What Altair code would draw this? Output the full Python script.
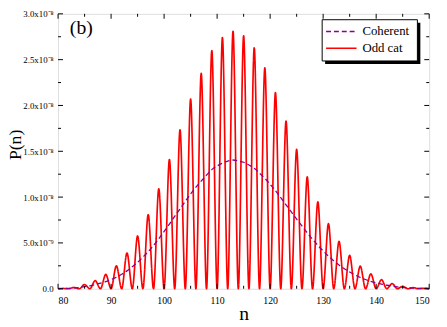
import altair as alt
import pandas as pd

# ---- data (values in units of 1e-8) ----
n_values = list(range(80, 151))
coherent_e8 = [
    0.001, 0.0015, 0.004, 0.007, 0.014, 0.023, 0.032, 0.044, 0.060, 0.078,
    0.100, 0.125, 0.158, 0.195, 0.240, 0.288, 0.345, 0.405, 0.473, 0.545,
    0.625, 0.705, 0.790, 0.870, 0.955, 1.035, 1.108, 1.175, 1.240, 1.300,
    1.340, 1.370, 1.392, 1.405, 1.395, 1.380, 1.350, 1.315, 1.262, 1.205,
    1.140, 1.070, 0.993, 0.915, 0.838, 0.760, 0.685, 0.610, 0.540, 0.474,
    0.412, 0.355, 0.305, 0.258, 0.218, 0.182, 0.151, 0.124, 0.101, 0.081,
    0.064, 0.050, 0.038, 0.028, 0.020, 0.014, 0.010, 0.007, 0.004, 0.003,
    0.002,
]
oddcat_e8 = [
    0.0, 0.003, 0.0, 0.014, 0.0, 0.046, 0.0, 0.088, 0.0, 0.156,
    0.0, 0.25, 0.0, 0.39, 0.0, 0.576, 0.0, 0.81, 0.0, 1.09,
    0.0, 1.41, 0.0, 1.735, 0.0, 2.07, 0.0, 2.35, 0.0, 2.60,
    0.0, 2.74, 0.0, 2.81, 0.0, 2.76, 0.0, 2.63, 0.0, 2.41,
    0.0, 2.14, 0.0, 1.83, 0.0, 1.52, 0.0, 1.22, 0.0, 0.947,
    0.0, 0.71, 0.0, 0.516, 0.0, 0.364, 0.0, 0.247, 0.0, 0.162,
    0.0, 0.099, 0.0, 0.056, 0.0, 0.026, 0.0, 0.012, 0.0, 0.005,
    0.0,
]
series_names = ["Coherent", "Odd cat"]
series_colors = ["#8b008b", "#ff0000"]
series_dashes = [[5, 3], [1, 0]]

x_major = [80, 90, 100, 110, 120, 130, 140, 150]
x_minor = [85, 95, 105, 115, 125, 135, 145]
y_major = [0, 5e-9, 1e-8, 1.5e-8, 2e-8, 2.5e-8, 3e-8]
y_minor = [2.5e-9, 7.5e-9, 1.25e-8, 1.75e-8, 2.25e-8, 2.75e-8]
y_labels = ["0.0", "5.0x10⁻⁹", "1.0x10⁻⁸", "1.5x10⁻⁸", "2.0x10⁻⁸", "2.5x10⁻⁸", "3.0x10⁻⁸"]

SCALE = 1e-8
W, H = 378, 280
FONT = "Liberation Serif"

coh = pd.DataFrame({"n": n_values, "P": [v * SCALE for v in coherent_e8], "series": "Coherent"})
odd = pd.DataFrame({"n": n_values, "P": [v * SCALE for v in oddcat_e8], "series": "Odd cat"})

xscale = alt.Scale(domain=[80, 150], nice=False, zero=False)
yscale = alt.Scale(domain=[0, 3e-8], nice=False)

label_expr = "[" + ",".join("'" + s + "'" for s in y_labels) + "][round(datum.value/5e-9)]"

color_enc = alt.Color("series:N", scale=alt.Scale(domain=series_names, range=series_colors), legend=None)
dash_enc = alt.StrokeDash("series:N", scale=alt.Scale(domain=series_names, range=series_dashes), legend=None)

x_enc = alt.X("n:Q", scale=xscale,
              axis=alt.Axis(values=x_major, ticks=False, domain=False, grid=False, title="n",
                            labelFont=FONT, labelFontSize=10, labelColor="black", labelPadding=7,
                            titleFont=FONT, titleFontSize=20, titleFontWeight="normal",
                            titleColor="black", titleY=31, titleBaseline="alphabetic"))
y_enc = alt.Y("P:Q", scale=yscale,
              axis=alt.Axis(values=y_major, ticks=False, domain=False, grid=False, title="P(n)",
                            labelExpr=label_expr, labelFont=FONT, labelFontSize=9,
                            labelColor="black", labelPadding=5,
                            titleFont=FONT, titleFontSize=18, titleFontWeight="normal",
                            titleColor="black", titleX=-38.5, titleY=133,
                            titleBaseline="alphabetic", titleAngle=270))

odd_line = alt.Chart(odd).mark_line(strokeWidth=1.7, interpolate="monotone").encode(
    x=x_enc, y=y_enc, color=color_enc, strokeDash=dash_enc)
coh_line = alt.Chart(coh).mark_line(strokeWidth=1.3, interpolate="monotone").encode(
    x="n:Q", y="P:Q", color=color_enc, strokeDash=dash_enc)

# ---- legend drawn by hand (box with drop shadow) ----
one = pd.DataFrame({"a": [0]})
shadow = alt.Chart(one).mark_rect(color="black").encode(
    x=alt.value(272), x2=alt.value(369), y=alt.value(9), y2=alt.value(51))
box = alt.Chart(one).mark_rect(fill="white", stroke="black", strokeWidth=1).encode(
    x=alt.value(269), x2=alt.value(366), y=alt.value(6), y2=alt.value(48))
leg_rows = []
for i, (name, col, dash) in enumerate(zip(series_names, series_colors, series_dashes)):
    yy = 18 + 17 * i
    leg_rows.append(alt.Chart(one).mark_rule(color=col, strokeWidth=1.5, strokeDash=dash).encode(
        x=alt.value(273), x2=alt.value(304), y=alt.value(yy)))
    leg_rows.append(alt.Chart(pd.DataFrame({"t": [name]})).mark_text(
        font=FONT, fontSize=13, color="black", align="left", baseline="middle").encode(
        x=alt.value(310), y=alt.value(yy), text="t:N"))

# tick marks (inward, on all four sides)
xM = pd.DataFrame({"v": x_major})
xm = pd.DataFrame({"v": x_minor})
yM = pd.DataFrame({"v": y_major})
ym = pd.DataFrame({"v": y_minor})

def xticks(df, length):
    b = alt.Chart(df).mark_rule(color="black", strokeWidth=1).encode(
        x=alt.X("v:Q", scale=xscale), y=alt.value(H), y2=alt.value(H - length))
    t = alt.Chart(df).mark_rule(color="black", strokeWidth=1).encode(
        x=alt.X("v:Q", scale=xscale), y=alt.value(0), y2=alt.value(length))
    return [b, t]

def yticks(df, length):
    l = alt.Chart(df).mark_rule(color="black", strokeWidth=1).encode(
        y=alt.Y("v:Q", scale=yscale), x=alt.value(0), x2=alt.value(length))
    r = alt.Chart(df).mark_rule(color="black", strokeWidth=1).encode(
        y=alt.Y("v:Q", scale=yscale), x=alt.value(W), x2=alt.value(W - length))
    return [l, r]

ticks = xticks(xM, 5) + xticks(xm, 3) + yticks(yM, 5) + yticks(ym, 3)

label_b = alt.Chart(pd.DataFrame({"t": ["(b)"]})).mark_text(
    font=FONT, fontSize=20, color="black", align="left", baseline="middle").encode(
    x=alt.value(12), y=alt.value(15), text="t:N")

chart = alt.layer(odd_line, coh_line, *ticks, shadow, box, *leg_rows, label_b).properties(
    width=W, height=H,
    autosize=alt.AutoSizeParams(type="none"),
    padding={"left": 51, "top": 3, "right": 10, "bottom": 34},
).configure_view(stroke="black", strokeWidth=1.2).configure_axis(
    labelFont=FONT, titleFont=FONT).configure(background="white")

chart.save("out.html", embed_options={"renderer": "svg", "actions": False})
